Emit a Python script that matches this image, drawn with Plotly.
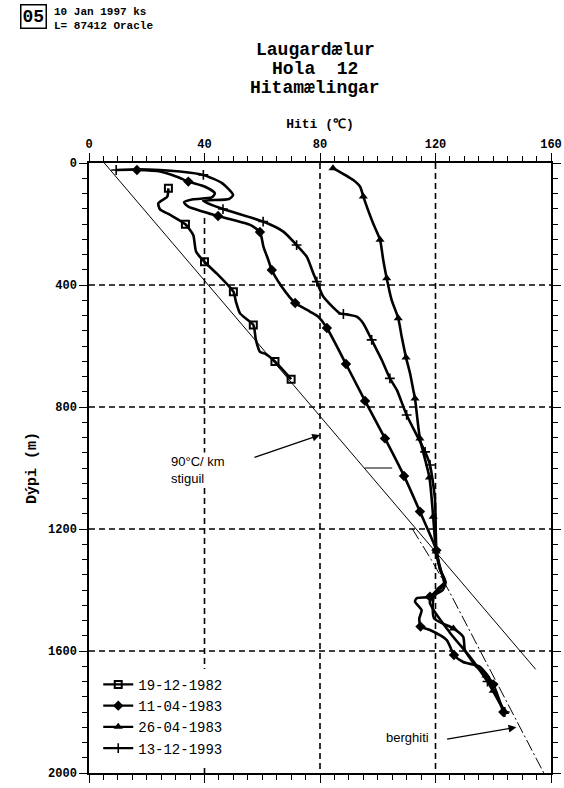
import plotly.graph_objects as go

# ---- temperature logs: temperature (°C) vs depth (m); flag 1 = logged point drawn with a symbol
t_1982 = [27.5, 27.1, 24.0, 24.6, 28.1, 33.4, 36.1, 37.1, 40.0, 44.2, 50.0, 50.9, 52.3, 56.9,
          57.8, 59.2, 61.0, 64.4, 70.0]
d_1982 = [83, 110, 132, 152, 170, 201, 236, 291, 324, 362, 422, 455, 493, 531,
          580, 619, 625, 651, 709]
m_1982 = [1, 0, 0, 0, 0, 1, 0, 0, 1, 0, 1, 0, 0, 1, 0, 0, 0, 1, 1]

t_1983a = [16.6, 24.6, 30.4, 34.4, 40.2, 43.6, 42.5, 36.1, 32.9, 34.4, 39.6, 44.7, 50.0, 55.8,
           59.2, 60.4, 62.1, 63.3, 66.7, 71.4, 76.5, 79.4, 82.4, 89.0, 95.6, 102.5, 109.1,
           114.6, 120.3, 121.6, 123.3, 121.0, 118.1, 113.5, 112.9, 115.2, 114.4, 114.8,
           118.1, 123.9, 126.4, 129.6, 135.4, 140.0, 143.5]
d_1983a = [23, 28, 45, 61, 78, 99, 113, 119, 129, 143, 160, 174, 187, 203,
           226, 274, 318, 351, 405, 459, 487, 504, 541, 659, 780, 903, 1026,
           1143, 1270, 1334, 1373, 1394, 1422, 1427, 1438, 1466, 1493, 1520,
           1531, 1564, 1613, 1636, 1652, 1710, 1800]
m_1983a = [1, 0, 0, 1, 0, 0, 0, 0, 0, 0, 0, 1, 0, 0,
           1, 0, 0, 1, 0, 1, 0, 0, 1, 1, 1, 1, 1,
           1, 1, 0, 0, 0, 1, 0, 0, 0, 0, 1,
           0, 0, 1, 0, 0, 1, 1]

t_1983b = [84.5, 91.5, 93.9, 95.0, 98.4, 100.8, 101.9, 103.1, 104.8, 107.1, 108.3, 109.8,
           111.2, 112.3, 112.9, 114.6, 117.9, 119.2, 120.2, 121.5, 123.5, 122.5, 119.5,
           119.5, 126.2, 129.6, 130.2, 134.0, 137.5, 140.0, 144.0]
d_1983b = [17, 56, 78, 110, 198, 252, 318, 378, 449, 509, 570, 638,
           690, 744, 772, 903, 1031, 1160, 1274, 1330, 1375, 1400, 1420,
           1493, 1526, 1554, 1597, 1650, 1680, 1730, 1800]
m_1983b = [1, 0, 0, 1, 0, 1, 0, 1, 0, 1, 0, 1,
           0, 0, 1, 1, 1, 1, 1, 0, 0, 0, 0,
           0, 1, 0, 0, 0, 1, 1, 1]

t_1993 = [9.4, 16.7, 24.6, 31.5, 39.6, 46.1, 49.9, 48.5, 39.5, 46.4, 60.3, 67.3, 71.9, 75.4,
          77.7, 78.9, 81.1, 86.9, 88.1, 92.7, 95.0, 97.9, 101.4, 104.2, 106.6, 110.0,
          116.4, 118.1, 119.8, 120.4, 122.0, 123.0, 120.0, 118.0, 125.0, 132.0, 138.0, 144.0]
d_1993 = [23, 21, 23, 28, 39, 66, 105, 118, 124, 151, 192, 225, 269, 307,
          362, 389, 438, 493, 495, 504, 526, 580, 646, 706, 744, 826,
          947, 990, 1100, 1280, 1340, 1380, 1410, 1440, 1540, 1620, 1700, 1800]
m_1993 = [1, 0, 0, 0, 1, 0, 0, 0, 0, 1, 1, 0, 1, 0,
          0, 1, 0, 0, 1, 0, 0, 1, 0, 1, 0, 1,
          1, 1, 0, 0, 0, 0, 0, 0, 0, 0, 1, 1]

# 90 °C/km reference gradient and estimated formation temperature (berghiti)
grad_d = [0, 1660]
grad_t = [5.3, 154.7]
berg_d = [1200, 1300, 1400, 1500, 1600, 1700, 1800, 1900, 2000]
berg_t = [112.0, 118.5, 124.5, 130.0, 135.5, 141.0, 146.5, 152.0, 157.5]

# labels
legend_names = ["19-12-1982", "11-04-1983", "26-04-1983", "13-12-1993"]
x_ticks = [0, 40, 80, 120, 160]
y_ticks = [0, 400, 800, 1200, 1600, 2000]

MONO = "Liberation Mono, DejaVu Sans Mono, monospace"
SANS = "Liberation Sans, Arial, sans-serif"

series = [
    (t_1982, d_1982, m_1982, dict(symbol="square-open", size=7, color="black",
                                  line=dict(width=2, color="black"))),
    (t_1983a, d_1983a, m_1983a, dict(symbol="diamond", size=8, color="black")),
    (t_1983b, d_1983b, m_1983b, dict(symbol="triangle-up", size=8, color="black")),
    (t_1993, d_1993, m_1993, dict(symbol="cross-thin", size=7, color="black",
                                  line=dict(width=1.6, color="black"))),
]

fig = go.Figure()

# thin reference lines
fig.add_trace(go.Scatter(x=grad_t, y=grad_d, mode="lines", showlegend=False,
                         line=dict(color="black", width=1), hoverinfo="skip"))
fig.add_trace(go.Scatter(x=berg_t, y=berg_d, mode="lines", showlegend=False,
                         line=dict(color="black", width=1, dash="12px,3px,2px,3px"),
                         hoverinfo="skip"))

for (t, d, m, mk), name in zip(series, legend_names):
    fig.add_trace(go.Scatter(x=t, y=d, mode="lines", showlegend=False,
                             line=dict(color="black", width=2.6, shape="spline",
                                       smoothing=0.6)))
    fig.add_trace(go.Scatter(x=[v for v, f in zip(t, m) if f],
                             y=[v for v, f in zip(d, m) if f],
                             mode="markers", showlegend=False, marker=mk))
    # legend key
    fig.add_trace(go.Scatter(x=[None], y=[None], mode="lines+markers", name=name,
                             line=dict(color="black", width=2.2), marker=mk))

# dashed grid (the 40 °C line stops below the upper loops)
for xv, y0 in [(40, 180), (80, 0), (120, 0)]:
    fig.add_shape(type="line", x0=xv, x1=xv, y0=y0, y1=2000, xref="x", yref="y",
                  line=dict(color="black", width=1.6, dash="6px,4px"), layer="below")
for yv in y_ticks[1:-1]:
    fig.add_shape(type="line", x0=0, x1=160, y0=yv, y1=yv, xref="x", yref="y",
                  line=dict(color="black", width=1.6, dash="6px,4px"), layer="below")

# short leader mark near 1000 m
fig.add_shape(type="line", x0=95.5, x1=105, y0=1000, y1=1000, xref="x", yref="y",
              line=dict(color="black", width=1))

# gradient annotation
fig.add_annotation(x=80, y=892, ax=56.8, ay=967, xref="x", yref="y", axref="x", ayref="y",
                   text="", showarrow=True, arrowhead=2, arrowsize=1.2, arrowwidth=1.3,
                   arrowcolor="black")
fig.add_annotation(x=27.7, y=1005, xref="x", yref="y", xanchor="left", yanchor="middle",
                   text="90°C/ km<br>stiguil", showarrow=False, align="left",
                   bgcolor="white", font=dict(family=SANS, size=13, color="black"))

# formation temperature annotation
fig.add_annotation(x=148, y=1850, ax=123.5, ay=1890, xref="x", yref="y", axref="x",
                   ayref="y", text="", showarrow=True, arrowhead=2, arrowsize=1.2,
                   arrowwidth=1.3, arrowcolor="black")
fig.add_annotation(x=102, y=1885, xref="x", yref="y", xanchor="left", yanchor="middle",
                   text="berghiti", showarrow=False,
                   font=dict(family=SANS, size=13, color="black"))

# titles
for i, line in enumerate(["Laugardælur", "Hola  12", "Hitamælingar"]):
    fig.add_annotation(x=0.49, y=1.0, xref="paper", yref="paper",
                       yshift=(163 - 50 - i * 19), xanchor="center", yanchor="middle",
                       text="<b>%s</b>" % line, showarrow=False,
                       font=dict(family=MONO, size=18, color="black"))

# header stamp
fig.add_annotation(x=0, y=1, xref="paper", yref="paper", xshift=-89 + 20, yshift=163 - 4,
                   xanchor="left", yanchor="top", text="<b>05</b>", showarrow=False,
                   bordercolor="black", borderwidth=1.5, borderpad=1,
                   font=dict(family=MONO, size=18, color="black"))
fig.add_annotation(x=0, y=1, xref="paper", yref="paper", xshift=-89 + 52, yshift=163 - 4,
                   xanchor="left", yanchor="top", align="left", showarrow=False,
                   text="<b>10 Jan 1997 ks<br>L= 87412 Oracle</b>",
                   font=dict(family=MONO, size=11, color="black"))

fig.update_layout(
    width=564, height=788,
    margin=dict(l=89, r=13, t=163, b=15),
    paper_bgcolor="white", plot_bgcolor="white",
    showlegend=True,
    legend=dict(x=0.02, y=0.015, xanchor="left", yanchor="bottom", bgcolor="white",
                font=dict(family=MONO, size=14, color="black"), itemwidth=30,
                tracegroupgap=0),
    xaxis=dict(side="top", range=[0, 160], tickvals=x_ticks, showgrid=False,
               automargin=False,
               showline=True, linecolor="black", linewidth=1.5, mirror="allticks",
               ticks="outside", ticklen=8, tickwidth=1.3, tickcolor="black",
               minor=dict(dtick=5, ticks="outside", ticklen=5, tickwidth=1, tickcolor="black"),
               tickfont=dict(family=MONO, size=12, color="black", weight="bold"),
               title=dict(text="<b>Hiti (℃)</b>", standoff=7,
                          font=dict(family=MONO, size=13, color="black")),
               zeroline=False),
    yaxis=dict(range=[2000, 0], tickvals=y_ticks, showgrid=False,
               automargin=False,
               showline=True, linecolor="black", linewidth=1.5, mirror="allticks",
               ticks="outside", ticklen=8, tickwidth=1.3, tickcolor="black",
               minor=dict(dtick=50, ticks="outside", ticklen=5, tickwidth=1, tickcolor="black"),
               tickfont=dict(family=MONO, size=12, color="black", weight="bold"),
               title=dict(text="<b>Dýpi (m)</b>", standoff=8,
                          font=dict(family=MONO, size=15, color="black")),
               zeroline=False),
)

fig.write_html("out.html")
